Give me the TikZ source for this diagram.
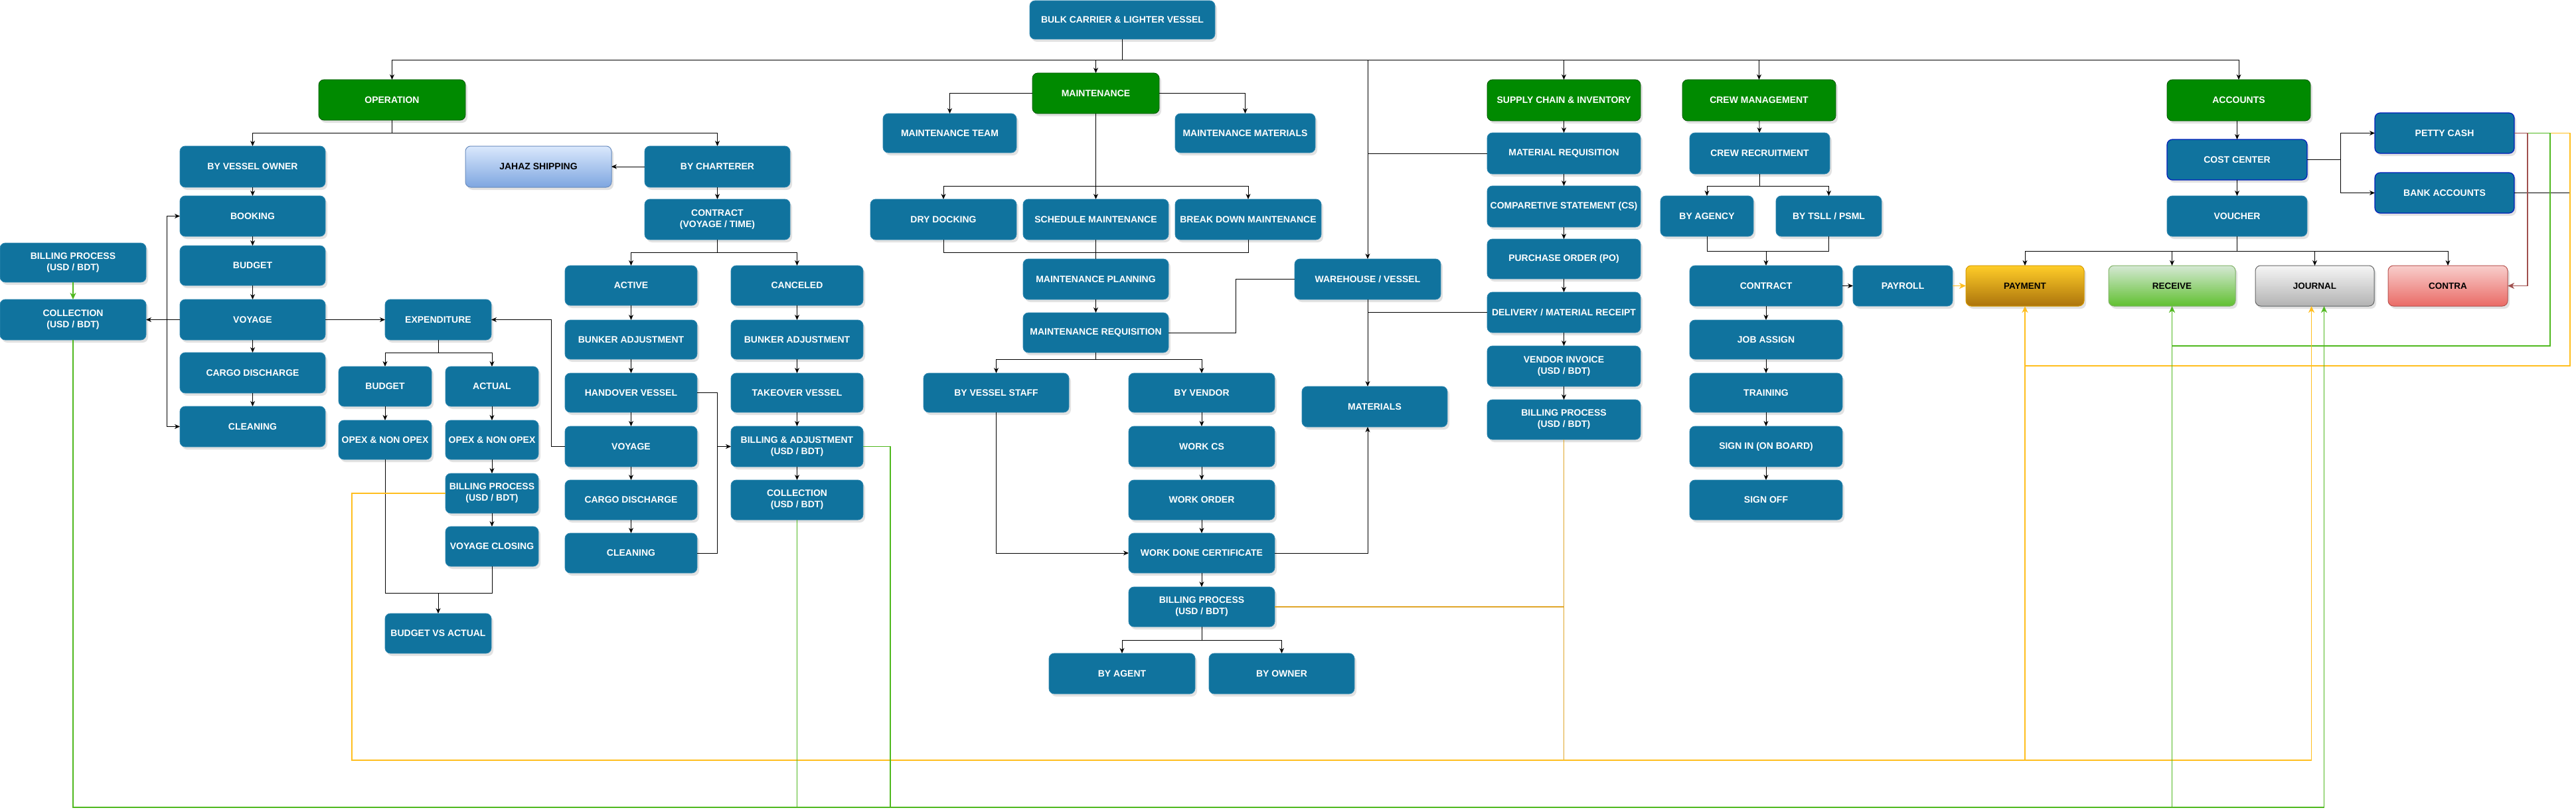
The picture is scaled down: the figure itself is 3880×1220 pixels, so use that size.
\documentclass[tikz,border=0pt]{standalone}
\usepackage{fontspec}
\setmainfont{Liberation Sans}
\usetikzlibrary{arrows.meta,shadows,calc}
\definecolor{cblue}{HTML}{10739E}
\definecolor{cbedge}{HTML}{2F87B0}
\definecolor{cgreen}{HTML}{008A00}
\definecolor{cgreend}{HTML}{005700}
\definecolor{cbb}{HTML}{001DBC}
\definecolor{cyel}{HTML}{FFBE1E}
\definecolor{cyeld}{HTML}{E0A62A}
\definecolor{cgrl}{HTML}{4FB81E}
\definecolor{cbrn}{HTML}{A0504E}
\definecolor{payT}{HTML}{FFCD28}
\definecolor{payB}{HTML}{AC740C}
\definecolor{payD}{HTML}{D79B00}
\definecolor{recT}{HTML}{D5E8D4}
\definecolor{recB}{HTML}{60C030}
\definecolor{recD}{HTML}{82B366}
\definecolor{jouT}{HTML}{F5F5F5}
\definecolor{jouB}{HTML}{B3B3B3}
\definecolor{jouD}{HTML}{666666}
\definecolor{conT}{HTML}{F8CECC}
\definecolor{conB}{HTML}{EA6B66}
\definecolor{conD}{HTML}{B85450}
\definecolor{jahT}{HTML}{DAE8FC}
\definecolor{jahB}{HTML}{7EA6E0}
\definecolor{jahD}{HTML}{6C8EBF}
\newcommand\mkbox[7][]{%
  \pgfmathsetmacro\bxc{(#3+#5)/2}%
  \pgfmathsetmacro\byc{-(#4+#6)/2}%
  \pgfmathsetmacro\bw{#5-#3}%
  \pgfmathsetmacro\bh{#6-#4}%
  \node[box,#1,minimum width=\bw pt,minimum height=\bh pt] (#2) at (\bxc pt,\byc pt) {#7};%
}
\tikzset{
  box/.style={rectangle, rounded corners=8pt, fill=cblue, draw=cbedge, line width=0.8pt,
    text=white, font=\bfseries\fontsize{14}{17}\selectfont, align=center,
    inner sep=0pt, outer sep=0pt,
    drop shadow={shadow xshift=3pt, shadow yshift=-4pt, fill=black!22}},
  grn/.style={fill=cgreen, draw=cgreend},
  bb/.style={draw=cbb, line width=1.2pt},
  dk/.style={text=black, font=\bfseries\fontsize{13.5}{16}\selectfont, line width=1pt},
  gpay/.style={dk, top color=payT, bottom color=payB, draw=payD},
  grec/.style={dk, top color=recT, bottom color=recB, draw=recD},
  gjou/.style={dk, top color=jouT, bottom color=jouB, draw=jouD},
  gcon/.style={dk, top color=conT, bottom color=conB, draw=conD},
  gjah/.style={dk, font=\bfseries\fontsize{14}{17}\selectfont, top color=jahT, bottom color=jahB, draw=jahD},
  lk/.style={draw=black, line width=0.9pt},
  ar/.style={lk, -{Stealth[length=8pt,width=7pt,inset=2.5pt]}},
  yl/.style={draw=cyel, line width=1.8pt},
  yld/.style={draw=cyeld, line width=1.8pt},
  yar/.style={yl, -{Stealth[length=10pt,width=9pt,inset=3pt]}},
  gl/.style={draw=cgrl, line width=1.8pt},
  gar/.style={gl, -{Stealth[length=10pt,width=9pt,inset=3pt]}},
  bra/.style={draw=cbrn, line width=1.8pt, -{Stealth[length=10pt,width=9pt,inset=3pt]}},
}
\begin{document}
\begin{tikzpicture}[x=1pt,y=1pt]
\fill[white] (0,0) rectangle (3880,-1220);
\useasboundingbox (0,0) rectangle (3880,-1220);

% ---------- top
\mkbox{bulk}{1551}{1}{1830}{59}{BULK CARRIER \& LIGHTER VESSEL}

% ---------- operation
\mkbox[grn]{op}{480}{120}{701}{181}{OPERATION}
\mkbox{byowner}{271}{220}{490}{282}{BY VESSEL OWNER}
\mkbox{booking}{271}{295}{490}{356}{BOOKING}
\mkbox{budgetA}{271}{370}{490}{430}{BUDGET}
\mkbox{voyageA}{271}{451}{490}{512}{VOYAGE}
\mkbox{cargoA}{271}{531}{490}{592}{CARGO DISCHARGE}
\mkbox{cleanA}{271}{612}{490}{673}{CLEANING}
\mkbox{billL}{0}{366}{220}{425}{BILLING PROCESS\\(USD / BDT)}
\mkbox{collL}{0}{451}{220}{512}{COLLECTION\\(USD / BDT)}
\mkbox{exp}{580}{451}{740}{512}{EXPENDITURE}
\mkbox{budgetB}{510}{552}{650}{612}{BUDGET}
\mkbox{actual}{671}{552}{811}{612}{ACTUAL}
\mkbox{opexA}{510}{633}{650}{692}{OPEX \& NON OPEX}
\mkbox{opexB}{671}{633}{811}{692}{OPEX \& NON OPEX}
\mkbox{billA}{671}{713}{811}{773}{BILLING PROCESS\\(USD / BDT)}
\mkbox{vclose}{671}{793}{811}{853}{VOYAGE CLOSING}
\mkbox{bva}{580}{924}{740}{984}{BUDGET VS ACTUAL}
\mkbox[gjah]{jahaz}{701}{220}{921}{282}{JAHAZ SHIPPING}
\mkbox{bychart}{971}{220}{1190}{282}{BY CHARTERER}
\mkbox{contractA}{971}{300}{1190}{361}{CONTRACT\\(VOYAGE / TIME)}
\mkbox{active}{851}{400}{1050}{460}{ACTIVE}
\mkbox{bunkerA}{851}{482}{1050}{541}{BUNKER ADJUSTMENT}
\mkbox{handover}{851}{562}{1050}{621}{HANDOVER VESSEL}
\mkbox{voyageB}{851}{642}{1050}{703}{VOYAGE}
\mkbox{cargoB}{851}{723}{1050}{783}{CARGO DISCHARGE}
\mkbox{cleanB}{851}{803}{1050}{863}{CLEANING}
\mkbox{canceled}{1101}{400}{1300}{460}{CANCELED}
\mkbox{bunkerB}{1101}{482}{1300}{541}{BUNKER ADJUSTMENT}
\mkbox{takeover}{1101}{562}{1300}{621}{TAKEOVER VESSEL}
\mkbox{billadj}{1101}{642}{1300}{703}{BILLING \& ADJUSTMENT\\(USD / BDT)}
\mkbox{collR}{1101}{723}{1300}{783}{COLLECTION\\(USD / BDT)}

% ---------- maintenance
\mkbox[grn]{maint}{1555}{110}{1746}{171}{MAINTENANCE}
\mkbox{mteam}{1330}{171}{1531}{230}{MAINTENANCE TEAM}
\mkbox{mmat}{1770}{171}{1981}{230}{MAINTENANCE MATERIALS}
\mkbox{dry}{1311}{300}{1531}{361}{DRY DOCKING}
\mkbox{sched}{1541}{300}{1760}{361}{SCHEDULE MAINTENANCE}
\mkbox{brk}{1770}{300}{1990}{361}{BREAK DOWN MAINTENANCE}
\mkbox{mplan}{1541}{390}{1760}{451}{MAINTENANCE PLANNING}
\mkbox{mreq}{1541}{471}{1760}{531}{MAINTENANCE REQUISITION}
\mkbox{bystaff}{1391}{562}{1610}{621}{BY VESSEL STAFF}
\mkbox{byvendor}{1700}{562}{1920}{621}{BY VENDOR}
\mkbox{workcs}{1700}{642}{1920}{703}{WORK CS}
\mkbox{workorder}{1700}{723}{1920}{783}{WORK ORDER}
\mkbox{wdc}{1700}{803}{1920}{863}{WORK DONE CERTIFICATE}
\mkbox{billM}{1700}{884}{1920}{944}{BILLING PROCESS\\(USD / BDT)}
\mkbox{byagent}{1580}{984}{1800}{1045}{BY AGENT}
\mkbox{byownerB}{1821}{984}{2040}{1045}{BY OWNER}
\mkbox{warehouse}{1950}{390}{2170}{451}{WAREHOUSE / VESSEL}
\mkbox{materials}{1961}{582}{2180}{643}{MATERIALS}

% ---------- supply chain
\mkbox[grn]{sc}{2240}{120}{2471}{182}{SUPPLY CHAIN \& INVENTORY}
\mkbox{matreq}{2240}{200}{2471}{262}{MATERIAL REQUISITION}
\mkbox{cs}{2240}{280}{2471}{342}{COMPARETIVE STATEMENT (CS)}
\mkbox{po}{2240}{360}{2471}{420}{PURCHASE ORDER (PO)}
\mkbox{delivery}{2240}{440}{2471}{501}{DELIVERY / MATERIAL RECEIPT}
\mkbox{vinv}{2240}{521}{2471}{582}{VENDOR INVOICE\\(USD / BDT)}
\mkbox{billS}{2240}{602}{2471}{662}{BILLING PROCESS\\(USD / BDT)}

% ---------- crew
\mkbox[grn]{crew}{2534}{120}{2765}{182}{CREW MANAGEMENT}
\mkbox{crecruit}{2545}{200}{2756}{262}{CREW RECRUITMENT}
\mkbox{byagency}{2501}{295}{2641}{356}{BY AGENCY}
\mkbox{bytsll}{2675}{295}{2834}{356}{BY TSLL / PSML}
\mkbox{contractB}{2545}{400}{2775}{461}{CONTRACT}
\mkbox{payroll}{2791}{400}{2941}{461}{PAYROLL}
\mkbox{jobassign}{2545}{482}{2775}{541}{JOB ASSIGN}
\mkbox{training}{2545}{562}{2775}{621}{TRAINING}
\mkbox{signin}{2545}{642}{2775}{703}{SIGN IN (ON BOARD)}
\mkbox{signoff}{2545}{723}{2775}{783}{SIGN OFF}

% ---------- accounts
\mkbox[grn]{acc}{3264}{120}{3480}{182}{ACCOUNTS}
\mkbox[bb]{costc}{3264}{210}{3475}{271}{COST CENTER}
\mkbox{voucher}{3264}{295}{3475}{356}{VOUCHER}
\mkbox[bb]{petty}{3577}{170}{3787}{231}{PETTY CASH}
\mkbox[bb]{bank}{3577}{260}{3787}{321}{BANK ACCOUNTS}
\mkbox[gpay]{payment}{2961}{400}{3139}{461}{PAYMENT}
\mkbox[grec]{receive}{3176}{400}{3367}{461}{RECEIVE}
\mkbox[gjou]{journal}{3397}{400}{3576}{461}{JOURNAL}
\mkbox[gcon]{contra}{3597}{400}{3777}{461}{CONTRA}

% ================= connectors
% top bus
\draw[lk] (bulk.south) -- (bulk.south |- 0,-90) coordinate (tb);
\draw[ar] (tb) -| (op.north);
\draw[ar] (tb) -| (maint.north);
\draw[ar] (tb) -| (warehouse.north);
\draw[ar] (tb) -| (sc.north);
\draw[ar] (tb) -| (crew.north);
\draw[ar] (tb) -| (acc.north);

% operation
\draw[lk] (op.south) -- ++(0,-19) coordinate (ob);
\draw[ar] (ob) -| (byowner.north);
\draw[ar] (ob) -| (bychart.north);
\draw[ar] (byowner) -- (booking);
\draw[ar] (booking) -- (budgetA);
\draw[ar] (budgetA) -- (voyageA);
\draw[ar] (voyageA) -- (cargoA);
\draw[ar] (cargoA) -- (cleanA);
\draw[lk] (voyageA.west) -- ++(-20,0) coordinate (vj);
\draw[ar] (vj) |- (booking.west);
\draw[ar] (vj) |- (cleanA.west);
\draw[ar] (vj) -- (collL.east);
\draw[ar] (voyageA.east) -- (exp.west);
\draw[lk] (exp.south) -- ++(0,-19) coordinate (eb);
\draw[ar] (eb) -| (budgetB.north);
\draw[ar] (eb) -| (actual.north);
\draw[ar] (budgetB) -- (opexA);
\draw[ar] (actual) -- (opexB);
\draw[ar] (opexB) -- (billA);
\draw[ar] (billA) -- (vclose);
\draw[lk] (opexA.south) -- (opexA.south |- 0,-893) -| (vclose.south);
\draw[ar] (bva.north |- 0,-893) -- (bva.north);
\draw[ar] (voyageB.west) -- ++(-21,0) |- (exp.east);
\draw[ar] (bychart.west) -- (jahaz.east);
\draw[ar] (bychart) -- (contractA);
\draw[lk] (contractA.south) -- ++(0,-19) coordinate (cb);
\draw[ar] (cb) -| (active.north);
\draw[ar] (cb) -| (canceled.north);
\draw[ar] (active) -- (bunkerA);
\draw[ar] (bunkerA) -- (handover);
\draw[ar] (handover) -- (voyageB);
\draw[ar] (voyageB) -- (cargoB);
\draw[ar] (cargoB) -- (cleanB);
\draw[ar] (canceled) -- (bunkerB);
\draw[ar] (bunkerB) -- (takeover);
\draw[ar] (takeover) -- (billadj);
\draw[ar] (billadj) -- (collR);
\draw[lk] (handover.east) -- ++(30,0) coordinate (hj) |- (cleanB.east);
\draw[ar] (hj |- billadj.west) -- (billadj.west);

% maintenance
\draw[ar] (maint.west) -| (mteam.north);
\draw[ar] (maint.east) -| (mmat.north);
\draw[lk] (maint.south) -- (maint.south |- 0,-280) coordinate (mb);
\draw[ar] (mb) -| (dry.north);
\draw[ar] (mb) -- (sched.north);
\draw[ar] (mb) -| (brk.north);
\draw[lk] (dry.south) -- ++(0,-19) -| (brk.south);
\draw[lk] (sched.south) -- (mplan.north);
\draw[ar] (mplan) -- (mreq);
\draw[lk] (mreq.south) -- ++(0,-10) coordinate (mrb);
\draw[ar] (mrb) -| (bystaff.north);
\draw[ar] (mrb) -| (byvendor.north);
\draw[lk] (mreq.east) -- ++(101,0) |- (warehouse.west);
\draw[ar] (bystaff.south) |- (wdc.west);
\draw[ar] (byvendor) -- (workcs);
\draw[ar] (workcs) -- (workorder);
\draw[ar] (workorder) -- (wdc);
\draw[ar] (wdc) -- (billM);
\draw[ar] (wdc.east) -| (warehouse.south |- materials.south);
\draw[lk] (billM.south) -- ++(0,-20) coordinate (bmb);
\draw[ar] (bmb) -| (byagent.north);
\draw[ar] (bmb) -| (byownerB.north);

% supply chain
\draw[ar] (sc) -- (matreq);
\draw[ar] (matreq) -- (cs);
\draw[ar] (cs) -- (po);
\draw[ar] (po) -- (delivery);
\draw[ar] (delivery) -- (vinv);
\draw[ar] (vinv) -- (billS);
\draw[lk] (matreq.west) -- (matreq.west -| warehouse.north);
\draw[lk] (delivery.west) -- (delivery.west -| warehouse.south);
\draw[ar] (warehouse.south) -- (warehouse.south |- materials.north);

% crew
\draw[ar] (crew) -- (crecruit);
\draw[lk] (crecruit.south) -- ++(0,-18) coordinate (crb);
\draw[ar] (crb) -| (byagency.north);
\draw[ar] (crb) -| (bytsll.north);
\draw[lk] (byagency.south) -- ++(0,-22) -| (bytsll.south);
\draw[ar] (contractB.north |- 0,-378) -- (contractB.north);
\draw[ar] (contractB.east) -- (payroll.west);
\draw[ar] (contractB) -- (jobassign);
\draw[ar] (jobassign) -- (training);
\draw[ar] (training) -- (signin);
\draw[ar] (signin) -- (signoff);
\draw[yar] (payroll.east) -- (payment.west);

% accounts
\draw[ar] (costc.north |- acc.south) -- (costc.north);
\draw[lk] (costc.east) -- ++(50,0) coordinate (ccj);
\draw[ar] (ccj) |- (petty.west);
\draw[ar] (ccj) |- (bank.west);
\draw[ar] (costc) -- (voucher);
\draw[lk] (voucher.south) -- ++(0,-22) coordinate (vb);
\draw[ar] (vb) -| (payment.north);
\draw[ar] (vb) -| (receive.north);
\draw[ar] (vb) -| (journal.north);
\draw[ar] (vb) -| (contra.north);

% coloured flows
\draw[lk] (bank.east) -- ++(84,0);
\draw[yl] (petty.east) -- ++(84,0) |- (payment.south |- 0,-551);
\draw[gl] (petty.east) -- ++(54,0) |- (receive.south |- 0,-521);
\draw[bra] (petty.east) -- ++(20,0) |- (contra.east);

\draw[yld] (billS.south) -- (billS.south |- 0,-1145);
\draw[yld] (billM.east) -- (billM.east -| billS.south);
\draw[yar] (billA.west) -- ++(-141,0) |- ([xshift=-5pt]journal.south |- 0,-1145) -- ([xshift=-5pt]journal.south);
\draw[yar] (payment.south |- 0,-1145) -- (payment.south);

\draw[gar] (billL.south) -- (collL.north);
\draw[gar] (collL.south) |- ([xshift=14pt]journal.south |- 0,-1216) -- ([xshift=14pt]journal.south);
\draw[gar] (receive.south |- 0,-1216) -- (receive.south);
\draw[gl] (collR.south) -- (collR.south |- 0,-1216);
\draw[gl] (billadj.east) -- ++(41,0) coordinate (baj) -- (baj |- 0,-1216);
\end{tikzpicture}
\end{document}
